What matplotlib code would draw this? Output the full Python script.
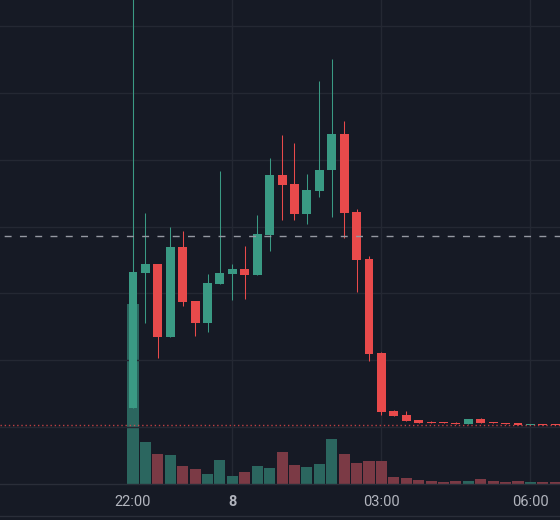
import numpy as np
import pandas as pd
import matplotlib
matplotlib.use('Agg')
import matplotlib.pyplot as plt
from matplotlib.lines import Line2D
import matplotlib.transforms as mtransforms

# 15 minute candles (price scale is not shown, so units are arbitrary)
times = pd.date_range('2024-03-07 22:00', periods=35, freq='15min')

opens = [1.284, 3.305, 3.440, 2.347, 3.695, 2.886, 2.557, 3.141, 3.290, 3.365,
         3.275, 3.874, 4.772, 4.638, 4.189, 4.533, 4.847, 5.386, 4.219, 3.515,
         2.108, 1.240, 1.180, 1.105, 1.075, 1.075, 1.060, 1.045, 1.120, 1.075,
         1.060, 1.060, 1.030, 1.045, 1.045]
highs = [7.800, 4.204, 3.440, 3.994, 3.934, 2.886, 3.290, 4.832, 3.440, 3.710,
         4.174, 5.027, 5.371, 5.251, 4.787, 6.180, 6.509, 5.581, 4.263, 3.560,
         2.123, 1.254, 1.240, 1.105, 1.090, 1.075, 1.075, 1.120, 1.135, 1.075,
         1.060, 1.060, 1.045, 1.045, 1.045]
lows = [1.284, 2.557, 2.033, 2.347, 2.811, 2.362, 2.422, 3.141, 2.901, 2.916,
        3.275, 3.635, 4.099, 4.099, 4.039, 4.443, 4.144, 3.829, 3.021, 1.988,
        1.180, 1.165, 1.090, 1.060, 1.060, 1.060, 1.045, 1.045, 1.060, 1.060,
        1.045, 1.030, 1.030, 1.030, 1.030]
closes = [3.320, 3.440, 2.347, 3.695, 2.871, 2.557, 3.156, 3.305, 3.365, 3.275,
          3.889, 4.772, 4.623, 4.189, 4.548, 4.847, 5.386, 4.204, 3.500, 2.093,
          1.225, 1.165, 1.090, 1.060, 1.060, 1.060, 1.045, 1.120, 1.060, 1.060,
          1.045, 1.030, 1.045, 1.030, 1.030]
volumes = [1800, 420, 300, 290, 180, 150, 100, 240, 80, 120,
           180, 160, 320, 190, 170, 200, 450, 300, 210, 230,
           230, 70, 60, 40, 30, 20, 30, 30, 50, 30,
           20, 30, 20, 20, 20]

ref_price = 3.859          # dashed grey line
tick_times = ['2024-03-07 22:00', '2024-03-08 00:00', '2024-03-08 03:00', '2024-03-08 06:00']
tick_labels = ['22:00', '8', '03:00', '06:00']

bg = '#161a25'
grid_c = '#242833'
up_c = '#3a9a84'
down_c = '#e84a4b'
vol_up = '#2b665f'
vol_down = '#7b3a45'
text_c = '#b2b5be'

fig = plt.figure(figsize=(5.6, 5.2), dpi=100, facecolor=bg)
ax_v = fig.add_axes([0, 36 / 520, 1, 484 / 520])
ax = fig.add_axes([0, 36 / 520, 1, 484 / 520], sharex=ax_v)
for a in (ax, ax_v):
    a.patch.set_visible(False)
    for s in a.spines.values():
        s.set_visible(False)
    a.set_xticks([])
    a.set_yticks([])
ax_v.patch.set_visible(True)
ax_v.patch.set_facecolor(bg)

x = np.arange(len(times))
o = np.array(opens)
c = np.array(closes)
up = c >= o

# volume
ax_v.bar(x, volumes, width=0.89, color=[vol_up if u else vol_down for u in up], linewidth=0)
ax_v.set_ylim(0, max(volumes) * 484 / 180)

# grid
t0 = times[0]
step = pd.Timedelta('15min')
tick_x = [(pd.Timestamp(t) - t0) / step for t in tick_times]
for tx in tick_x:
    ax_v.axvline(tx, color=grid_c, lw=1, zorder=0)
for gy in range(1, 8):
    ax.axhline(gy, color=grid_c, lw=1, zorder=0)

# candles
min_body = 1 / 66.8
for i in range(len(x)):
    col = up_c if up[i] else down_c
    ax.vlines(x[i], lows[i], highs[i], color=col, lw=0.75, zorder=3)
    bot = min(o[i], c[i])
    h = max(abs(c[i] - o[i]), min_body)
    ax.bar(x[i], h, bottom=bot, width=0.72, color=col, linewidth=0, zorder=4)

ax.axhline(ref_price, color='#9598a1', lw=1, ls=(8, (5, 6)), zorder=5)
ax.axhline(closes[-1], color=down_c, lw=1, ls=(0, (1, 2)), alpha=0.8, zorder=5)

ax.set_xlim(-133 / 12.42, (560 - 133) / 12.42)
ax.set_ylim(1 - 57 / 66.8, 1 + 427 / 66.8)

# time axis
trans = mtransforms.blended_transform_factory(ax.transData, fig.transFigure)
for tx, lab in zip(tick_x, tick_labels):
    fig.text(tx, 1 - 502 / 520, lab, transform=trans, ha='center', va='center',
             color=text_c, fontsize=10.5, family='Roboto',
             fontweight='bold' if lab == '8' else 'normal')

fig.add_artist(Line2D([0, 1], [36 / 520, 36 / 520], color='#2a2e39', lw=1))
fig.add_artist(Line2D([0, 1], [4 / 520, 4 / 520], color='#2a2e39', lw=1))

fig.savefig('out.png', dpi=100, facecolor=bg)
